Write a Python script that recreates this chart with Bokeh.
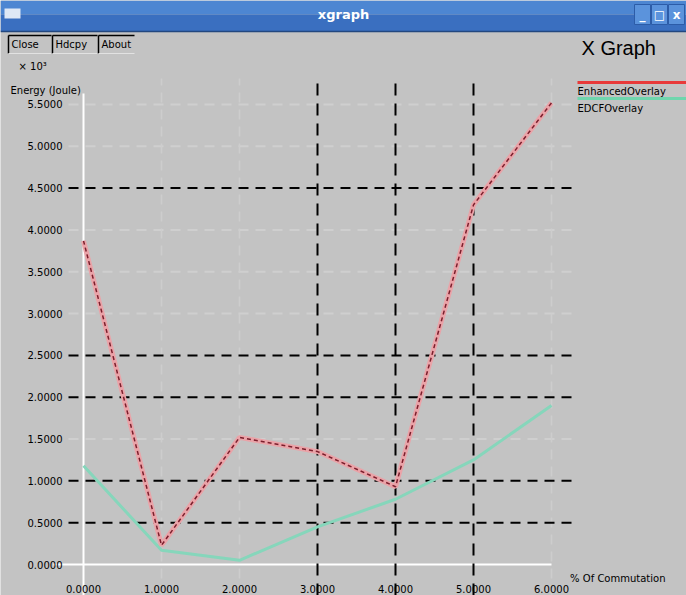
from bokeh.plotting import figure
from bokeh.models import Range1d
from bokeh.core.properties import value
from bokeh.embed import file_html
from bokeh.resources import INLINE

# ---- data ----
x_vals = [0, 1, 2, 3, 4, 5, 6]
enhanced = [3.87, 0.23, 1.52, 1.35, 0.93, 4.30, 5.52]
edcf = [1.18, 0.17, 0.05, 0.45, 0.78, 1.25, 1.90]
series_names = ["EnhancedOverlay", "EDCFOverlay"]

y_ticks = [0.0, 0.5, 1.0, 1.5, 2.0, 2.5, 3.0, 3.5, 4.0, 4.5, 5.0, 5.5]
y_tick_labels = ["0.0000", "0.5000", "1.0000", "1.5000", "2.0000", "2.5000",
                 "3.0000", "3.5000", "4.0000", "4.5000", "5.0000", "5.5000"]
x_ticks = [0, 1, 2, 3, 4, 5, 6]
x_tick_labels = ["0.0000", "1.0000", "2.0000", "3.0000", "4.0000", "5.0000", "6.0000"]
dark_y = [0.5, 1.0, 2.0, 2.5, 4.5]
faint_y = [1.5, 3.0, 3.5, 4.0, 5.0, 5.5]
dark_x = [3, 4, 5]
faint_x = [1, 2, 6]

# ---- layout (picture pixels) ----
W, H = 686, 595
PX0, PXU = 83.0, 78.0     # pixel x of x=0, px per unit
PY0, PYU = 564.0, 83.64   # pixel y of y=0, px per unit


def dx(px):
    return (px - PX0) / PXU


def dy(py):
    return (PY0 - py) / PYU


BG = "#c3c3c3"
p = figure(width=W, height=H, output_backend="svg", toolbar_location=None,
           x_range=Range1d(dx(0), dx(W)), y_range=Range1d(dy(H), dy(0)),
           x_axis_location=None, y_axis_location=None, min_border=0,
           background_fill_color=BG, border_fill_color=BG)
p.outline_line_color = None
p.grid.visible = False

# title bar
p.quad(left=dx(0), right=dx(W), top=dy(0), bottom=dy(14), color="#4d86d2", line_color=None)
p.quad(left=dx(0), right=dx(W), top=dy(14), bottom=dy(31), color="#3a6fc0", line_color=None)
p.segment(x0=dx(0), x1=dx(W), y0=dy(31), y1=dy(31), line_color="#22477f", line_width=1.5)
p.quad(left=dx(4), right=dx(20), top=dy(8), bottom=dy(18), color="#dfe8f5", line_color=None)
p.text(x=[dx(343)], y=[dy(14)], text=["xgraph"], text_font=value("DejaVu Sans"),
       text_font_size="13px", text_font_style="bold", text_color="white",
       text_align="center", text_baseline="middle")
# window controls
for i, g in enumerate(["_", "\u25a1", "x"]):
    l = 634 + i * 17
    p.quad(left=dx(l), right=dx(l + 16), top=dy(4), bottom=dy(24), color="#5b93dc",
           line_color="#2c5ca8")
    p.text(x=[dx(l + 8)], y=[dy(14)], text=[g], text_font=value("DejaVu Sans"),
           text_font_size="12px", text_font_style="bold", text_color="white",
           text_align="center", text_baseline="middle")

# buttons
for l, r, t in [(8, 51, "Close"), (52, 97, "Hdcpy"), (98, 134, "About")]:
    p.segment(x0=dx(l), x1=dx(r), y0=dy(35), y1=dy(35), line_color="black", line_width=1.5)
    p.segment(x0=dx(l), x1=dx(l), y0=dy(35), y1=dy(53), line_color="black", line_width=1.5)
    p.segment(x0=dx(l), x1=dx(r), y0=dy(53), y1=dy(53), line_color="#e2e2e2", line_width=1)
    p.text(x=[dx(l + 3)], y=[dy(44)], text=[t], text_font=value("DejaVu Sans"),
           text_font_size="10px", text_color="black", text_align="left",
           text_baseline="middle")

# faint grid
p.segment(x0=[dx(68)] * len(faint_y), x1=[dx(578)] * len(faint_y), y0=faint_y, y1=faint_y,
          line_color="#cfcfcf", line_width=2, line_dash="10 7")
p.segment(x0=faint_x, x1=faint_x, y0=[dy(595)] * len(faint_x), y1=[dy(78)] * len(faint_x),
          line_color="#cdcdcd", line_width=1.5, line_dash="10 7")

# white axes
p.segment(x0=[dx(53)], x1=[6], y0=[0], y1=[0], line_color="white", line_width=2)
p.segment(x0=[0], x1=[0], y0=[dy(595)], y1=[dy(93)], line_color="white", line_width=2)

# dark dashed grid
p.segment(x0=[dx(68)] * len(dark_y), x1=[dx(578)] * len(dark_y), y0=dark_y, y1=dark_y,
          line_color="black", line_width=2, line_dash="10 7")
p.segment(x0=dark_x, x1=dark_x, y0=[dy(595)] * len(dark_x), y1=[dy(78)] * len(dark_x),
          line_color="black", line_width=2, line_dash="12 8")

# series
p.line(x_vals, edcf, line_color="#86d6bb", line_width=3)
p.line(x_vals, enhanced, line_color="#eaa3a8", line_width=5)
p.line(x_vals, enhanced, line_color="#7c1e2c", line_width=1.5, line_dash="4 3")

# tick labels
p.text(x=[dx(62)] * len(y_ticks), y=y_ticks, text=y_tick_labels, text_font=value("DejaVu Sans"),
       text_font_size="10px", text_color="black", text_align="right", text_baseline="middle")
p.text(x=x_ticks, y=[dy(588)] * len(x_ticks), text=x_tick_labels, text_font=value("DejaVu Sans"),
       text_font_size="10px", text_color="black", text_align="center", text_baseline="middle")

# axis titles
p.text(x=[dx(18)], y=[dy(66)], text=["\u00d7 10\u00b3"], text_font=value("DejaVu Sans"),
       text_font_size="10px", text_color="black", text_align="left", text_baseline="middle")
p.text(x=[dx(10)], y=[dy(90)], text=["Energy (Joule)"], text_font=value("DejaVu Sans"),
       text_font_size="10px", text_color="black", text_align="left", text_baseline="middle")
p.text(x=[dx(665)], y=[dy(578)], text=["% Of Commutation"], text_font=value("DejaVu Sans"),
       text_font_size="10px", text_color="black", text_align="right", text_baseline="middle")

# graph title + legend
p.text(x=[dx(581)], y=[dy(47)], text=["X Graph"], text_font=value("Liberation Sans"),
       text_font_size="20px", text_color="black", text_align="left", text_baseline="middle")
p.segment(x0=[dx(577)], x1=[dx(W)], y0=[dy(82)], y1=[dy(82)], line_color="#e83a3a", line_width=3)
p.segment(x0=[dx(577)], x1=[dx(W)], y0=[dy(98)], y1=[dy(98)], line_color="#6fd6ad", line_width=3)
p.text(x=[dx(577), dx(577)], y=[dy(91), dy(108)], text=series_names,
       text_font=value("DejaVu Sans"), text_font_size="10px", text_color="black",
       text_align="left", text_baseline="middle")

open("out.html", "w").write(file_html(p, INLINE))
